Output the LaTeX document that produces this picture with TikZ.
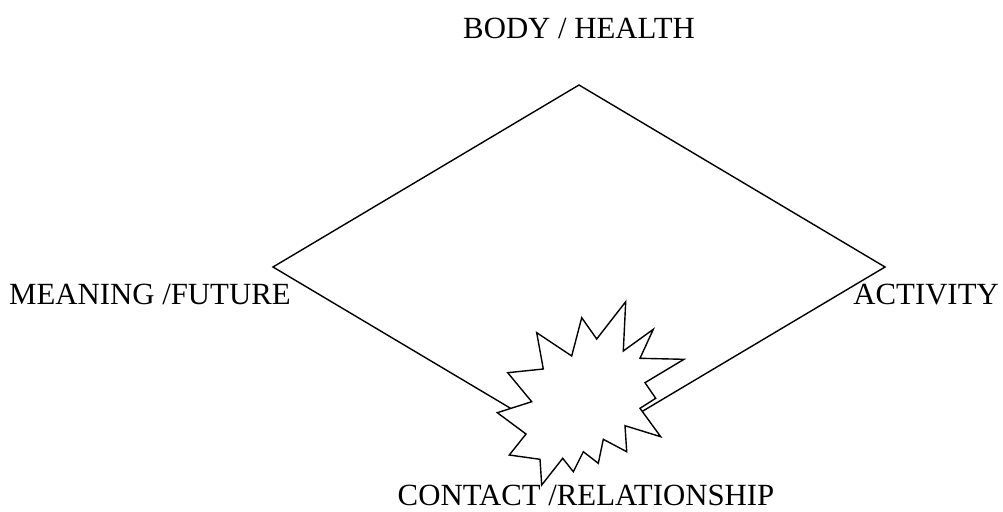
\documentclass[tikz,border=0pt]{standalone}
\usepackage{fontspec}
\setmainfont{Liberation Serif}
\begin{document}
\begin{tikzpicture}[x=1pt,y=-1pt,
  lbl/.style={font=\fontsize{30.8}{36}\selectfont, inner sep=0pt},
  edge/.style={line width=1.4pt, line join=miter},
  burst/.style={line width=1.4pt, fill=white, line join=miter}]
\useasboundingbox (0,0) rectangle (1003,511);
\coordinate (top) at (579,85);
\coordinate (left) at (273,267);
\coordinate (right) at (885,267);
\coordinate (bottom) at (579,449);
\draw[edge] (top) -- (right) -- (bottom) -- (left) -- cycle;
\draw[burst] (625.7,301.7) -- (623.3,351) -- (653.3,329.3) -- (640,358.3) -- (684,359.3)
  -- (645,382.7) -- (655.7,398.3) -- (640,408.3) -- (660.7,436.7) -- (625,425.7)
  -- (626.7,451.7) -- (603.3,439.3) -- (598.3,463.3) -- (583.3,451.7) -- (573.3,471.7)
  -- (562.7,458.3) -- (541.7,485) -- (540,459.3) -- (509.3,455) -- (526,434)
  -- (497.3,412.7) -- (531.7,401.7) -- (507.7,372.7) -- (543.3,369) -- (536.7,332.7)
  -- (571.7,356) -- (581.7,317.7) -- (596.7,339) -- cycle;
\node[lbl, anchor=base] (body) at (579,38) {BODY / HEALTH};
\node[lbl, anchor=base west] (meaning) at (9,304) {MEANING /FUTURE};
\node[lbl, anchor=base east] (activity) at (999,304) {ACTIVITY};
\node[lbl, anchor=base] (contact) at (586,505) {CONTACT /RELATIONSHIP};
\end{tikzpicture}
\end{document}
